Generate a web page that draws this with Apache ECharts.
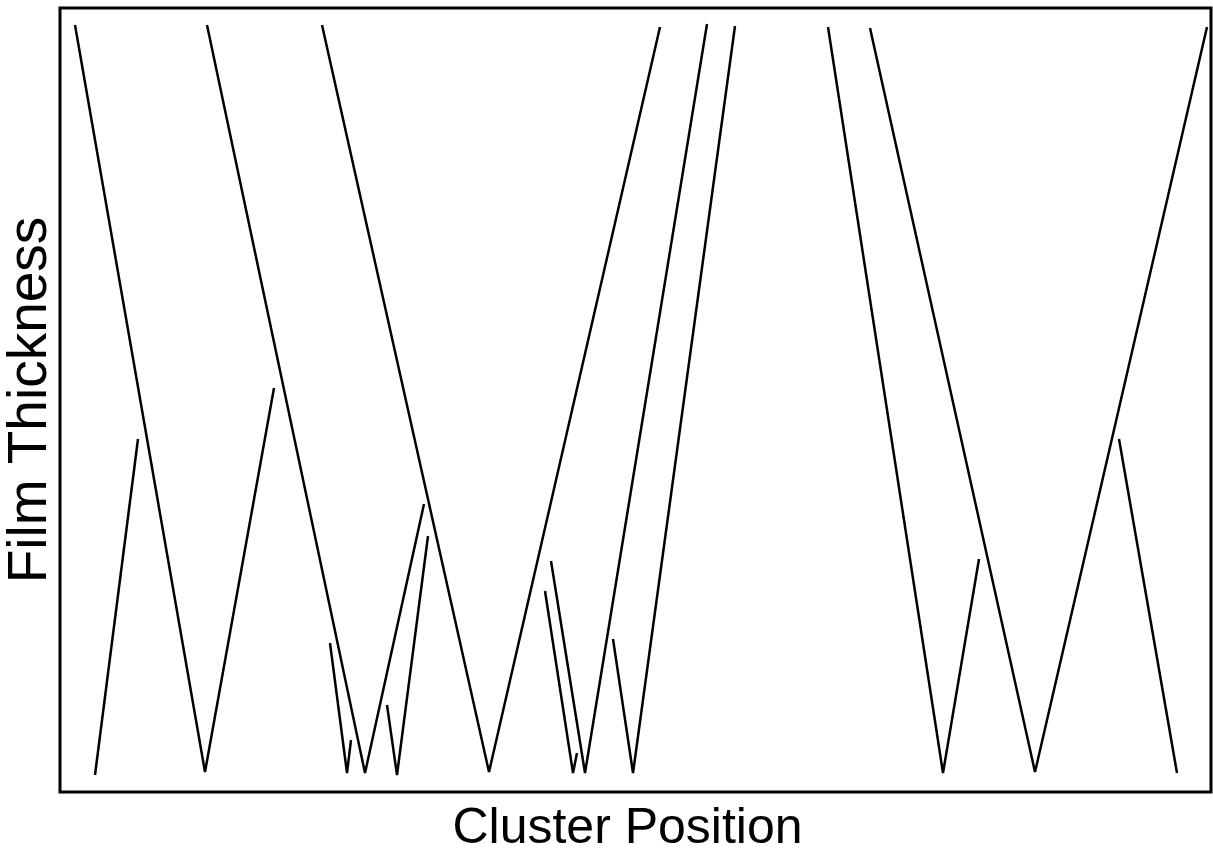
<!DOCTYPE html>
<html>
<head>
<meta charset="utf-8">
<title>Film Thickness vs Cluster Position</title>
<script src="https://cdn.jsdelivr.net/npm/echarts@6/dist/echarts.min.js"></script>
<style>
  html, body { margin: 0; padding: 0; background: #fff; }
  #chart { width: 1213px; height: 852px; }
</style>
</head>
<body>
<div id="chart"></div>
<script>
// Thickness traces: each is a list of [cluster position, film thickness] vertices
const traceA = [[15, 767], [145, 20], [214, 404]];
const traceB = [[35, 17], [78, 353]];
const traceC = [[147, 767], [305, 19], [364, 288]];
const traceD = [[270, 149], [287, 19], [291, 52]];
const traceE = [[327, 87], [337, 17], [368, 256]];
const traceF = [[262, 767], [429, 20], [600, 765]];
const traceG = [[485, 201], [513, 19], [517, 39]];
const traceH = [[491, 231], [525, 19], [647, 768]];
const traceI = [[553, 153], [573, 19], [675, 766]];
const traceJ = [[768, 765], [883, 19], [919, 233]];
const traceK = [[810, 764], [975, 20], [1147, 765]];
const traceL = [[1059, 353], [1117, 19]];

const traces = [traceA, traceB, traceC, traceD, traceE, traceF,
                traceG, traceH, traceI, traceJ, traceK, traceL];

const xTitle = 'Cluster Position';
const yTitle = 'Film Thickness';

const chart = echarts.init(document.getElementById('chart'), null, { renderer: 'canvas' });

const hiddenAxis = {
  axisLine: { show: false },
  axisTick: { show: false },
  axisLabel: { show: false },
  splitLine: { show: false }
};

chart.setOption({
  animation: false,
  backgroundColor: '#ffffff',
  grid: {
    left: 60, right: 2, top: 8, bottom: 60,
    containLabel: false,
    outerBoundsMode: 'none',
    show: true,
    borderColor: '#000',
    borderWidth: 3,
    backgroundColor: 'transparent'
  },
  xAxis: Object.assign({
    type: 'value', min: 0, max: 1151,
    name: xTitle,
    nameLocation: 'middle',
    nameGap: 12,
    nameTextStyle: {
      fontFamily: 'Liberation Sans', fontSize: 50, color: '#000',
      padding: [0, 16, 0, 0]
    }
  }, hiddenAxis),
  yAxis: Object.assign({
    type: 'value', min: 0, max: 784,
    name: yTitle,
    nameLocation: 'middle',
    nameGap: 2,
    nameTextStyle: { fontFamily: 'Liberation Sans', fontSize: 55, color: '#000' }
  }, hiddenAxis),
  series: traces.map(t => ({
    type: 'line',
    data: t,
    symbol: 'none',
    silent: true,
    lineStyle: { color: '#000', width: 2.5 }
  }))
});
</script>
</body>
</html>
